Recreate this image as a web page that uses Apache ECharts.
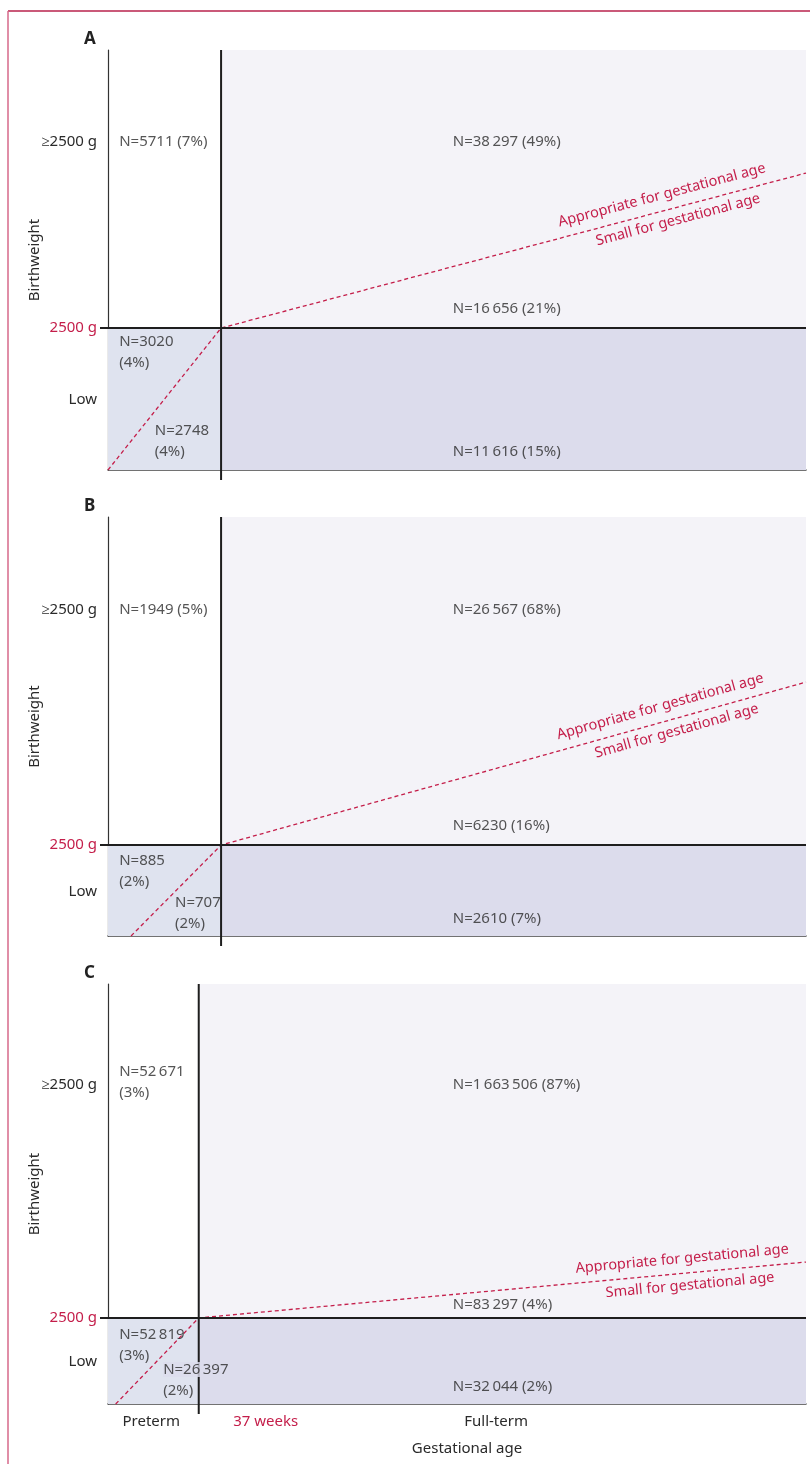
<!DOCTYPE html>
<html><head><meta charset="utf-8">
<script src="https://cdn.jsdelivr.net/npm/echarts@6/dist/echarts.min.js"></script>
<style>html,body{margin:0;padding:0;background:#fff}#c{width:810px;height:1464px}</style>
</head><body><div id="c"></div>
<script>
// ---------------- data ----------------
const panelLetters = ['A', 'B', 'C'];
const pretermHighN   = [5711, 1949, 52671];
const pretermHighPct = [7, 5, 3];
const termAgaHighN   = [38297, 26567, 1663506];
const termAgaHighPct = [49, 68, 87];
const termSgaHighN   = [16656, 6230, 83297];
const termSgaHighPct = [21, 16, 4];
const pretermAgaLowN   = [3020, 885, 52819];
const pretermAgaLowPct = [4, 2, 3];
const pretermSgaLowN   = [2748, 707, 26397];
const pretermSgaLowPct = [4, 2, 2];
const termSgaLowN   = [11616, 2610, 32044];
const termSgaLowPct = [15, 7, 2];
// schematic scale (0-100) positions of thresholds and SGA boundary
const cut37Weeks = [16.2, 16.2, 13.0];
const cut2500g   = [33.8, 21.7, 20.5];
const sgaStartX  = [0, 3.3, 1.1];
const sgaEndY    = [70.7, 60.6, 33.8];
const yTickLabels = ['\u22652500 g', '2500 g', 'Low'];
const xTickLabels = ['Preterm', '37 weeks', 'Full-term'];
const lineLabels = ['Appropriate for gestational age', 'Small for gestational age'];

// ---------------- layout ----------------
const gridTop = [50, 517, 984];
const gridHeight = [420, 419, 420];
const letterTop = [31, 498, 965];
const yHighLabelY = [78.1, 77.8, 76.0];
const yLowLabelY = [16.7, 10.5, 10.0];
const xTickPos = [6.2, 22.6, 55.6];
const labelPos = {
  pretermHigh: [[1.6, 78.1], [1.6, 77.8], [1.6, 76.7]],
  termAgaHigh: [[49.4, 78.1], [49.4, 77.8], [49.4, 76.0]],
  termSgaHigh: [[49.4, 38.3], [49.4, 26.3], [49.4, 23.6]],
  pretermAgaLow: [[1.6, 28.1], [1.6, 15.5], [1.6, 13.9]],
  pretermSgaLow: [[6.7, 6.9], [9.6, 5.4], [7.9, 5.7]],
  termSgaLow: [[49.4, 4.3], [49.4, 4.1], [49.4, 4.0]]
};
const pretermHighWrap = [false, false, true];
// [along-line distance from end, perpendicular distance] in px
const aboveDist = [[38, 8], [40, 8], [16, 7]];
const belowDist = [[51, 5], [53, 5], [33, 5]];

const FONT = 'Noto Sans';
const FS = 15;
const TXT = '#2a2a2a';
const RED = '#c41e4a';
const regionColors = ['#dfe3ef', '#f4f3f8', '#dcdcec'];

function fmtN(n) {
  const s = String(n);
  if (s.length < 5) return s;
  return s.replace(/\B(?=(\d{3})+(?!\d))/g, '\u2009');
}
function cell(n, pct, wrap) {
  return 'N=' + fmtN(n) + (wrap ? '\n' : ' ') + '(' + pct + '%)';
}

const grids = [], xAxes = [], yAxes = [], series = [], titles = [];
for (let p = 0; p < 3; p++) {
  grids.push({ left: 108, right: 4, top: gridTop[p], height: gridHeight[p] });
  titles.push({ text: panelLetters[p], left: 84, top: letterTop[p], padding: 0,
    textStyle: { fontFamily: FONT, fontSize: 17, fontWeight: 'bold', color: '#222' } });
  const last = p === 2;
  xAxes.push({
    type: 'value', gridIndex: p, min: 0, max: 100,
    splitLine: { show: false },
    axisLine: { show: true, lineStyle: { color: '#444', width: 1.5 } },
    axisTick: { show: false },
    axisLabel: last ? {
      show: true, margin: 10, customValues: xTickPos,
      fontFamily: FONT, fontSize: FS, color: TXT,
      formatter: function (v) {
        let i = 0, d = 1e9;
        xTickPos.forEach((t, k) => { if (Math.abs(t - v) < d) { d = Math.abs(t - v); i = k; } });
        return i === 1 ? '{r|' + xTickLabels[i] + '}' : xTickLabels[i];
      },
      rich: { r: { color: RED, fontFamily: FONT, fontSize: FS } }
    } : { show: false },
    name: last ? 'Gestational age' : '',
    nameLocation: 'middle', nameGap: 37, nameMoveOverlap: false,
    nameTextStyle: { fontFamily: FONT, fontSize: FS, color: TXT, padding: [0, 0, 0, 20] }
  });
  const yVals = [yHighLabelY[p], cut2500g[p], yLowLabelY[p]];
  yAxes.push({
    type: 'value', gridIndex: p, min: 0, max: 100,
    splitLine: { show: false },
    axisLine: { show: true, lineStyle: { color: '#333', width: 1.2 } },
    axisTick: { show: false },
    axisLabel: {
      show: true, margin: 11, customValues: yVals.slice(),
      fontFamily: FONT, fontSize: FS, color: TXT,
      formatter: function (v) {
        let i = 0, d = 1e9;
        yVals.forEach((t, k) => { if (Math.abs(t - v) < d) { d = Math.abs(t - v); i = k; } });
        return i === 1 ? '{r|' + yTickLabels[i] + '}' : yTickLabels[i];
      },
      rich: { r: { color: RED, fontFamily: FONT, fontSize: FS } }
    },
    name: 'Birthweight', nameLocation: 'middle', nameRotate: 90, nameGap: 66, nameMoveOverlap: false,
    nameTextStyle: { fontFamily: FONT, fontSize: FS, color: TXT }
  });

  const cx = cut37Weeks[p], cy = cut2500g[p];
  // background regions
  series.push({
    type: 'custom', xAxisIndex: p, yAxisIndex: p, z: 1, silent: true,
    data: [[0, 0, cx, cy, 0], [cx, cy, 100, 100, 1], [cx, 0, 100, cy, 2]],
    renderItem: function (params, api) {
      const a = api.coord([api.value(0), api.value(1)]);
      const b = api.coord([api.value(2), api.value(3)]);
      return { type: 'rect', shape: { x: a[0], y: b[1], width: b[0] - a[0], height: a[1] - b[1] },
        style: { fill: regionColors[api.value(4)] } };
    }
  });
  // SGA boundary (dashed)
  series.push({
    type: 'line', xAxisIndex: p, yAxisIndex: p, z: 3, silent: true, symbol: 'none',
    data: [[sgaStartX[p], 0], [cx, cy], [100, sgaEndY[p]]],
    lineStyle: { color: RED, width: 1.3, type: [4, 3] }
  });
  // AGA / SGA labels along the full-term segment
  (function (pp) {
    series.push({
      type: 'custom', xAxisIndex: pp, yAxisIndex: pp, z: 4, silent: true,
      data: [[cx, cy, 100, sgaEndY[pp]]],
      renderItem: function (params, api) {
        const a = api.coord([api.value(0), api.value(1)]);
        const b = api.coord([api.value(2), api.value(3)]);
        const ang = Math.atan2(a[1] - b[1], b[0] - a[0]);
        const st = { fill: RED, fontFamily: FONT, fontSize: 14.5, align: 'right' };
        return { type: 'group', children: [
          { type: 'text', x: b[0], y: b[1], rotation: ang, originX: 0, originY: 0,
            style: Object.assign({}, st, { text: lineLabels[0], verticalAlign: 'bottom', x: -aboveDist[pp][0], y: -aboveDist[pp][1] }) },
          { type: 'text', x: b[0], y: b[1], rotation: ang, originX: 0, originY: 0,
            style: Object.assign({}, st, { text: lineLabels[1], verticalAlign: 'top', x: -belowDist[pp][0], y: belowDist[pp][1] }) }
        ] };
      }
    });
  })(p);
  // dividers (37 weeks, 2500 g)
  series.push({
    type: 'custom', xAxisIndex: p, yAxisIndex: p, z: 5, silent: true,
    data: [[cx, cy]],
    renderItem: function (params, api) {
      const x = api.value(0), y = api.value(1);
      const top = api.coord([x, 100]), bot = api.coord([x, 0]);
      const l = api.coord([0, y]), r = api.coord([100, y]);
      const st = { stroke: '#1e1e1e', lineWidth: 2 };
      return { type: 'group', children: [
        { type: 'line', shape: { x1: top[0], y1: top[1], x2: bot[0], y2: bot[1] + 10 }, style: st },
        { type: 'line', shape: { x1: l[0] - 8, y1: l[1], x2: r[0], y2: r[1] }, style: st }
      ] };
    }
  });
  // cell counts
  const cells = [
    [labelPos.pretermHigh[p], cell(pretermHighN[p], pretermHighPct[p], pretermHighWrap[p])],
    [labelPos.termAgaHigh[p], cell(termAgaHighN[p], termAgaHighPct[p], false)],
    [labelPos.termSgaHigh[p], cell(termSgaHighN[p], termSgaHighPct[p], false)],
    [labelPos.pretermAgaLow[p], cell(pretermAgaLowN[p], pretermAgaLowPct[p], true)],
    [labelPos.pretermSgaLow[p], cell(pretermSgaLowN[p], pretermSgaLowPct[p], true)],
    [labelPos.termSgaLow[p], cell(termSgaLowN[p], termSgaLowPct[p], false)]
  ];
  series.push({
    type: 'scatter', xAxisIndex: p, yAxisIndex: p, z: 6, silent: true, symbolSize: 0,
    data: cells.map(function (c, k) {
      const item = { value: c[0], name: c[1] };
      if (p === 2 && k === 4) {
        const parts = c[1].split('\n');
        item.label = { formatter: '{bg|' + parts[0] + '}\n{n|' + parts[1] + '}' };
      }
      return item;
    }),
    label: {
      show: true, position: 'right', distance: 0, formatter: '{b}',
      fontFamily: FONT, fontSize: FS, color: TXT, lineHeight: 21,
      rich: {
        bg: { backgroundColor: '#dcdcec', fontFamily: FONT, fontSize: FS, color: TXT, lineHeight: 21 },
        n: { fontFamily: FONT, fontSize: FS, color: TXT, lineHeight: 21 }
      }
    }
  });
}

const chart = echarts.init(document.getElementById('c'), null, { renderer: 'canvas' });
chart.setOption({
  animation: false,
  backgroundColor: '#ffffff',
  title: titles,
  grid: grids, xAxis: xAxes, yAxis: yAxes, series: series,
  graphic: [
    { type: 'line', shape: { x1: 8, y1: 11, x2: 810, y2: 11 }, style: { stroke: '#b8224c', lineWidth: 1.5 } },
    { type: 'line', shape: { x1: 8, y1: 11, x2: 8, y2: 1464 }, style: { stroke: '#d6698a', lineWidth: 1.5 } }
  ]
});
</script></body></html>
